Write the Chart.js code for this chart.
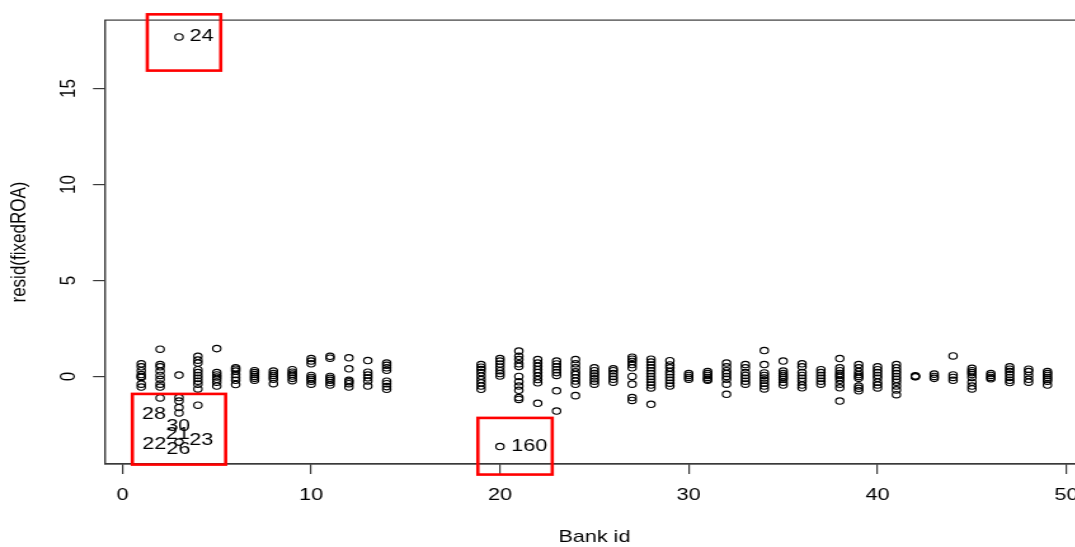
<!DOCTYPE html>
<html>
<head>
<meta charset="utf-8">
<script src="https://cdn.jsdelivr.net/npm/chart.js@4/dist/chart.umd.min.js"></script>
<style>
  html, body { margin: 0; padding: 0; background: #fff; overflow: hidden; }
  #wrap { position: relative; width: 1075px; height: 547px; overflow: hidden; background: #fff; }
  #residPlot { position: absolute; left: 0; top: 0; transform-origin: 0 0; }
</style>
</head>
<body>
<div id="wrap"><canvas id="residPlot"></canvas></div>
<script>
// bank ids on the x axis, one residual list per bank
const bankIds = [1, 2, 3, 4, 5, 6, 7, 8, 9, 10, 11, 12, 13, 14,
  19, 20, 21, 22, 23, 24, 25, 26, 27, 28, 29, 30, 31, 32, 33, 34,
  35, 36, 37, 38, 39, 40, 41, 42, 43, 44, 45, 46, 47, 48, 49];

const residByBank = [
  [0.66, 0.5, 0.3, 0.1, 0.0, -0.05, -0.4, -0.55],
  [1.42, 0.62, 0.5, 0.28, 0.05, -0.15, -0.4, -0.55, -1.12],
  [17.68, 0.07, -1.1, -1.28, -1.62, -1.9, -3.42],
  [1.05, 0.85, 0.7, 0.35, 0.2, 0.05, -0.1, -0.25, -0.4, -0.65, -1.5],
  [1.45, 0.2, 0.08, -0.03, -0.15, -0.3, -0.5],
  [0.45, 0.38, 0.28, 0.1, -0.05, -0.2, -0.42],
  [0.3, 0.2, 0.1, 0.0, -0.1, -0.2],
  [0.28, 0.15, 0.05, -0.05, -0.15, -0.38],
  [0.35, 0.22, 0.12, 0.02, -0.1, -0.22],
  [0.93, 0.8, 0.66, 0.05, -0.05, -0.15, -0.25, -0.4],
  [1.05, 0.95, 0.0, -0.1, -0.2, -0.32, -0.45],
  [0.97, 0.4, -0.2, -0.28, -0.38, -0.55],
  [0.83, 0.22, 0.07, -0.07, -0.24, -0.5],
  [0.7, 0.58, 0.45, 0.32, -0.25, -0.38, -0.53, -0.67],
  [0.62, 0.48, 0.36, 0.2, 0.02, -0.16, -0.33, -0.5, -0.67],
  [0.93, 0.8, 0.65, 0.48, 0.3, 0.15, 0.02, -3.65],
  [1.32, 1.05, 0.88, 0.66, 0.52, 0.0, -0.28, -0.5, -0.72, -1.1, -1.2],
  [0.88, 0.7, 0.53, 0.36, 0.2, 0.02, -0.16, -0.33, -1.4],
  [0.8, 0.65, 0.5, 0.35, 0.2, 0.05, -0.75, -1.8],
  [0.88, 0.66, 0.45, 0.24, 0.1, -0.07, -0.24, -0.41, -1.0],
  [0.45, 0.3, 0.15, 0.02, -0.12, -0.25, -0.4],
  [0.4, 0.3, 0.15, 0.0, -0.15, -0.3],
  [1.0, 0.9, 0.78, 0.62, 0.45, 0.0, -0.4, -1.1, -1.25],
  [0.9, 0.75, 0.6, 0.45, 0.3, 0.15, 0.0, -0.15, -0.3, -0.45, -0.6, -1.45],
  [0.82, 0.6, 0.45, 0.25, 0.1, -0.05, -0.2, -0.35, -0.5],
  [0.15, 0.05, -0.05, -0.15],
  [0.25, 0.15, 0.05, -0.05, -0.15, -0.2],
  [0.7, 0.5, 0.3, 0.15, 0.0, -0.15, -0.4, -0.93],
  [0.62, 0.45, 0.2, 0.05, -0.1, -0.25, -0.4],
  [1.35, 0.62, 0.18, 0.05, -0.08, -0.2, -0.35, -0.5, -0.65],
  [0.8, 0.28, 0.15, 0.05, -0.05, -0.15, -0.3, -0.45],
  [0.66, 0.5, 0.2, 0.05, -0.1, -0.25, -0.45, -0.59],
  [0.35, 0.2, 0.05, -0.1, -0.25, -0.4],
  [0.93, 0.45, 0.3, 0.15, 0.05, -0.05, -0.2, -0.4, -0.59, -1.28],
  [0.62, 0.45, 0.25, 0.1, 0.0, -0.1, -0.5, -0.62, -0.75],
  [0.5, 0.35, 0.2, 0.05, -0.1, -0.3, -0.45, -0.6],
  [0.62, 0.45, 0.3, 0.15, 0.0, -0.15, -0.3, -0.5, -0.7, -0.95],
  [0.03, -0.02, 0.0],
  [0.12, 0.0, -0.1],
  [1.07, 0.08, -0.05, -0.2],
  [0.42, 0.3, 0.2, 0.1, -0.05, -0.3, -0.5, -0.65],
  [0.15, 0.05, -0.05, -0.12],
  [0.5, 0.38, 0.25, 0.1, -0.05, -0.2, -0.32],
  [0.38, 0.25, 0.05, -0.15, -0.3],
  [0.25, 0.15, 0.05, -0.05, -0.15, -0.25, -0.45]
];

// observation numbers written next to the flagged residuals
const obsLabels = ["24", "160", "28", "22", "30", "21", "26", "23"];
const obsLabelX = [4.2, 21.55, 1.68, 1.69, 2.96, 2.93, 2.97, 4.18];
const obsLabelY = [17.7, -3.65, -1.95, -3.54, -2.59, -2.99, -3.77, -3.32];

// red boxes round the outliers: [x0, x1, y0, y1] in data units
const boxX0 = [1.32, 0.53, 18.83];
const boxX1 = [5.21, 5.47, 22.77];
const boxY0 = [18.86, -0.91, -2.16];
const boxY1 = [15.93, -4.59, -5.11];

const xTickValues = [0, 10, 20, 30, 40, 50];
const yTickValues = [0, 5, 10, 15];

// the plot was saved wider than tall, so the canvas is drawn narrow and stretched
const STRETCH = 1.27;
const CANVAS_W = 860;
const CANVAS_H = 547;
const AXIS_COLOR = "#3a3a3a";
const FONT = { family: "'Liberation Sans', Arial, sans-serif", size: 17, lineHeight: 1.2 };

const points = [];
bankIds.forEach((id, i) => {
  residByBank[i].forEach(v => points.push({ x: id, y: v }));
});

const canvas = document.getElementById("residPlot");
canvas.width = CANVAS_W;
canvas.height = CANVAS_H;
canvas.style.width = CANVAS_W + "px";
canvas.style.height = CANVAS_H + "px";
canvas.style.transform = `scaleX(${STRETCH})`;

const plotFrame = {
  id: "plotFrame",
  afterDraw(chart) {
    const { ctx, chartArea: a } = chart;
    ctx.save();
    ctx.strokeStyle = AXIS_COLOR;
    ctx.lineWidth = 1.2;
    ctx.strokeRect(a.left, a.top, a.right - a.left, a.bottom - a.top);
    ctx.restore();
  }
};

const obsText = {
  id: "obsText",
  afterDatasetsDraw(chart) {
    const { ctx, scales: { x, y } } = chart;
    ctx.save();
    ctx.fillStyle = "#000";
    ctx.font = `${FONT.size}px ${FONT.family}`;
    ctx.textAlign = "center";
    ctx.textBaseline = "middle";
    obsLabels.forEach((t, i) => {
      ctx.fillText(t, x.getPixelForValue(obsLabelX[i]), y.getPixelForValue(obsLabelY[i]));
    });
    ctx.restore();
  }
};

const redBoxes = {
  id: "redBoxes",
  afterDraw(chart) {
    const { ctx, scales: { x, y } } = chart;
    ctx.save();
    ctx.strokeStyle = "#ff0000";
    ctx.lineWidth = 2.6;
    boxX0.forEach((_, i) => {
      const l = x.getPixelForValue(boxX0[i]);
      const r = x.getPixelForValue(boxX1[i]);
      const t = y.getPixelForValue(boxY0[i]);
      const b = y.getPixelForValue(boxY1[i]);
      ctx.strokeRect(l, t, r - l, b - t);
    });
    ctx.restore();
  }
};

new Chart(canvas.getContext("2d"), {
  type: "scatter",
  data: {
    datasets: [{
      data: points,
      pointStyle: "circle",
      pointRadius: 3.2,
      pointBorderWidth: 1.15,
      pointBorderColor: "#000",
      pointBackgroundColor: "rgba(0,0,0,0)"
    }]
  },
  options: {
    responsive: false,
    animation: false,
    devicePixelRatio: 1,
    layout: { padding: { left: 0, top: 19, right: CANVAS_W - 1084 / STRETCH, bottom: 0 } },
    plugins: { legend: { display: false }, tooltip: { enabled: false } },
    scales: {
      x: {
        type: "linear",
        min: -0.92,
        max: 50.92,
        afterBuildTicks: s => { s.ticks = xTickValues.map(v => ({ value: v })); },
        afterFit: s => { s.height = CANVAS_H - 464; },
        border: { display: true, color: AXIS_COLOR, width: 1.2 },
        grid: { drawOnChartArea: false, drawTicks: true, tickLength: 10, color: AXIS_COLOR, lineWidth: 1.2 },
        ticks: { color: "#000", font: FONT, padding: 10.8, maxRotation: 0, autoSkip: false },
        title: { display: true, text: "Bank id", color: "#000", font: { ...FONT, lineHeight: 1.25 }, padding: { top: 0, bottom: -0.6 } }
      },
      y: {
        type: "linear",
        min: -4.56,
        max: 18.56,
        afterBuildTicks: s => { s.ticks = yTickValues.map(v => ({ value: v })); },
        afterFit: s => { s.width = 105 / STRETCH; },
        border: { display: true, color: AXIS_COLOR, width: 1.2 },
        grid: { drawOnChartArea: false, drawTicks: true, tickLength: 12 / STRETCH, color: AXIS_COLOR, lineWidth: 1.2 },
        ticks: { color: "#000", font: FONT, padding: 9.9, minRotation: 90, maxRotation: 90, crossAlign: "center", autoSkip: false },
        title: { display: true, text: "resid(fixedROA)", color: "#000", font: { ...FONT, lineHeight: 1.25 }, padding: { top: 20 / STRETCH - 10.6, bottom: 0 } }
      }
    }
  },
  plugins: [plotFrame, obsText, redBoxes]
});
</script>
</body>
</html>
